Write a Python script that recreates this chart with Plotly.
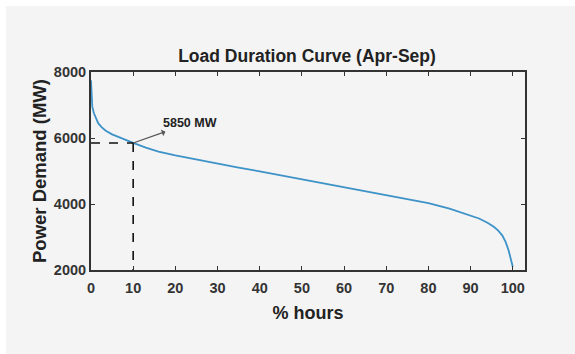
import plotly.graph_objects as go

# Data
pct_hours = [0, 0.1, 0.3, 0.7, 1.2, 1.7, 2.5, 3.5, 5, 6.5, 8, 10, 13, 16, 20, 25, 30, 35, 40,
             45, 50, 55, 60, 65, 70, 75, 80, 85, 90, 92, 94, 95.5, 96.5, 97.5, 98.3, 99, 99.5, 100]
demand_mw = [7750, 7200, 6950, 6750, 6600, 6450, 6330, 6220, 6110, 6030, 5950, 5850, 5710, 5590,
             5470, 5340, 5220, 5100, 4990, 4870, 4760, 4640, 4530, 4410, 4290, 4160, 4030, 3860,
             3650, 3560, 3430, 3310, 3200, 3050, 2850, 2600, 2350, 2100]
mark_x = 10
mark_y = 5850
mark_label = "5850 MW"
x_ticks = [0, 10, 20, 30, 40, 50, 60, 70, 80, 90, 100]
y_ticks = [2000, 4000, 6000, 8000]

FONT = "Liberation Sans, Arial, sans-serif"
AX = "#333333"

fig = go.Figure()
fig.add_trace(go.Scatter(x=pct_hours, y=demand_mw, mode="lines",
                         line=dict(color="#3d92c8", width=1.8),
                         showlegend=False, hoverinfo="x+y"))
# dashed guide lines
fig.add_trace(go.Scatter(x=[0, mark_x], y=[mark_y, mark_y], mode="lines",
                         line=dict(color="#111111", width=1.6, dash="dash"), showlegend=False))
fig.add_trace(go.Scatter(x=[mark_x, mark_x], y=[mark_y, y_ticks[0]], mode="lines",
                         line=dict(color="#111111", width=1.6, dash="dash"), showlegend=False))

fig.add_annotation(x=mark_x, y=mark_y, xref="x", yref="y",
                   ax=23.4, ay=6450, axref="x", ayref="y",
                   text="<b>" + mark_label + "</b>", showarrow=True,
                   arrowhead=6, arrowside="start", arrowsize=1, arrowwidth=1.2,
                   arrowcolor="#555555",
                   font=dict(family=FONT, size=12.5, color="#222222"))

# background panel with thin white border at top/left
fig.add_shape(type="rect", xref="paper", yref="paper",
              x0=(6 - 91) / 434, x1=(575 - 91) / 434,
              y0=(270 - 354) / 198, y1=(270 - 6) / 198,
              fillcolor="#f4f4f4", line=dict(width=0), layer="below")

fig.update_layout(
    width=575, height=354,
    margin=dict(l=91, r=50, t=72, b=84),
    paper_bgcolor="white",
    plot_bgcolor="#f8f8f8",
    title=dict(text="<b>Load Duration Curve (Apr-Sep)</b>", x=307 / 575, xanchor="center",
               y=1 - 56 / 354, yanchor="middle",
               font=dict(family=FONT, size=17.5, color="#222222")),
    font=dict(family=FONT, color="#222222"),
)
fig.update_xaxes(range=[0, 102.9], tickvals=x_ticks, ticks="inside", ticklen=4,
                 tickcolor=AX, showline=True, linecolor=AX, linewidth=2, mirror="ticks",
                 showgrid=False, zeroline=False, ticklabelstandoff=4,
                 tickfont=dict(family=FONT, size=14.5, color="#333333", weight="bold"),
                 title=dict(text="<b>% hours</b>", font=dict(family=FONT, size=18, color="#222222"),
                            standoff=11))
fig.update_yaxes(range=[2000, 8000], tickvals=y_ticks, ticks="inside", ticklen=4,
                 tickcolor=AX, showline=True, linecolor=AX, linewidth=2, mirror="ticks",
                 showgrid=False, zeroline=False,
                 tickfont=dict(family=FONT, size=14.5, color="#333333", weight="bold"),
                 title=dict(text="<b>Power Demand (MW)</b>", font=dict(family=FONT, size=18.5, color="#222222"),
                            standoff=2))

fig.write_html("out.html")
